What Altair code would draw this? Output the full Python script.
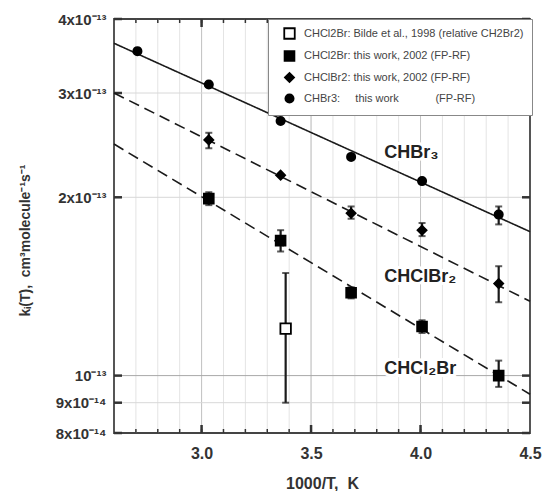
import altair as alt
import pandas as pd

NB = "\u00a0"

# ---------------- data ----------------
legend_labels = [
    "CHCl2Br: Bilde et al., 1998 (relative CH2Br2)",
    "CHCl2Br: this work, 2002 (FP-RF)",
    "CHClBr2: this work, 2002 (FP-RF)",
    "CHBr3:" + NB * 5 + "this work" + NB * 12 + "(FP-RF)",
]
legend_shapes = ["square", "square", "diamond", "circle"]
legend_fills = ["white", "black", "black", "black"]
legend_strokes = ["black", "black", "black", "black"]
legend_sizes = [110, 68, 130, 100]

bilde_x = [3.384]
bilde_k = [1.20e-13]
bilde_lo = [0.90e-13]
bilde_hi = [1.49e-13]

cl2br_x = [3.033, 3.361, 3.683, 4.007, 4.357]
cl2br_k = [1.99e-13, 1.69e-13, 1.38e-13, 1.21e-13, 1.00e-13]
cl2br_lo = [1.94e-13, 1.62e-13, 1.35e-13, 1.18e-13, 0.957e-13]
cl2br_hi = [2.04e-13, 1.76e-13, 1.41e-13, 1.24e-13, 1.06e-13]

clbr2_x = [3.033, 3.361, 3.683, 4.007, 4.357]
clbr2_k = [2.50e-13, 2.18e-13, 1.88e-13, 1.76e-13, 1.43e-13]
clbr2_lo = [2.42e-13, 2.18e-13, 1.84e-13, 1.72e-13, 1.33e-13]
clbr2_hi = [2.57e-13, 2.18e-13, 1.93e-13, 1.81e-13, 1.53e-13]

br3_x = [2.707, 3.033, 3.361, 3.683, 4.007, 4.357]
br3_k = [3.53e-13, 3.10e-13, 2.69e-13, 2.34e-13, 2.13e-13, 1.87e-13]
br3_lo = [3.53e-13, 3.10e-13, 2.69e-13, 2.34e-13, 2.13e-13, 1.80e-13]
br3_hi = [3.53e-13, 3.10e-13, 2.69e-13, 2.34e-13, 2.13e-13, 1.93e-13]

fit_x = [2.6, 4.5]
fit_br3 = [3.64e-13, 1.75e-13]
fit_clbr2 = [3.00e-13, 1.335e-13]
fit_cl2br = [2.46e-13, 0.93e-13]
fit_names = ["CHBr3", "CHClBr2", "CHCl2Br"]
fit_dash = ["solid", "dashed", "dashed"]

ann_labels = ["CHBr\u2083", "CHClBr\u2082", "CHCl\u2082Br"]
ann_x = [3.834, 3.834, 3.834]
ann_k = [2.33e-13, 1.44e-13, 1.006e-13]

y_ticks = [8e-14, 9e-14, 1e-13, 2e-13, 3e-13, 4e-13]
y_tick_labels = ["8x10\u207b\u00b9\u2074", "9x10\u207b\u00b9\u2074", "10\u207b\u00b9\u00b3",
                 "2x10\u207b\u00b9\u00b3", "3x10\u207b\u00b9\u00b3", "4x10\u207b\u00b9\u00b3"]
y_grid_light = [9e-14, 2e-13, 3e-13]
y_grid_dark = [1e-13]
x_major = [3.0, 3.5, 4.0, 4.5]
x_minor = [2.7, 2.8, 2.9, 3.0, 3.1, 3.2, 3.3, 3.4, 3.5, 3.6, 3.7, 3.8, 3.9,
           4.0, 4.1, 4.2, 4.3, 4.4]

# ---------------- tables ----------------
pts_rows = []
for name, xs_, ks, los, his in [
    (legend_labels[0], bilde_x, bilde_k, bilde_lo, bilde_hi),
    (legend_labels[1], cl2br_x, cl2br_k, cl2br_lo, cl2br_hi),
    (legend_labels[2], clbr2_x, clbr2_k, clbr2_lo, clbr2_hi),
    (legend_labels[3], br3_x, br3_k, br3_lo, br3_hi),
]:
    for x, k, lo, hi in zip(xs_, ks, los, his):
        pts_rows.append({"series": name, "x": x, "k": k, "lo": lo, "hi": hi})
pts = pd.DataFrame(pts_rows)
errs = pts[pts["hi"] > pts["lo"]].reset_index(drop=True)

fit_rows = []
for name, dash, ks in zip(fit_names, fit_dash, [fit_br3, fit_clbr2, fit_cl2br]):
    for x, k in zip(fit_x, ks):
        fit_rows.append({"name": name, "dash": dash, "x": x, "k": k})
fits = pd.DataFrame(fit_rows)

ann = pd.DataFrame({"label": ann_labels, "x": ann_x, "k": ann_k})

W, H = 416, 414
FONT = "Liberation Sans"

xs = alt.Scale(domain=[2.6, 4.5], nice=False, zero=False)
ys = alt.Scale(type="log", domain=[8e-14, 4e-13], nice=False)

conds = []
for i in range(len(y_ticks) - 1):
    mid = (y_ticks[i] * y_ticks[i + 1]) ** 0.5
    conds.append(f"datum.value < {mid:.6e} ? '{y_tick_labels[i]}' : ")
y_label_expr = "".join(conds) + f"'{y_tick_labels[-1]}'"

XA = alt.Axis(
    values=x_major, format=".1f", grid=False, ticks=False, domain=False,
    labelFont=FONT, labelFontSize=16, labelFontWeight="bold", labelColor="#333",
    labelPadding=12, labelFlush=False,
    title="1000/T," + NB + NB + "K", titleFont=FONT, titleFontSize=16,
    titleFontWeight="bold", titleColor="#333", titleBaseline="top", titleY=42,
)
YA = alt.Axis(
    values=y_ticks, labelExpr=y_label_expr, grid=False, ticks=False, domain=False,
    labelFont=FONT, labelFontSize=15, labelFontWeight="bold", labelColor="#333",
    labelPadding=8,
    title="k\u1d62(T)," + NB + NB + "cm\u00b3molecule\u207b\u00b9s\u207b\u00b9",
    titleFont=FONT, titleFontSize=14, titleFontWeight="bold", titleColor="#333",
    titleAngle=270, titleAlign="center", titleBaseline="middle", titleX=-89, titleY=221,
)


def X(f="x:Q"):
    return alt.X(f, scale=xs, axis=XA)


def Y(f="k:Q"):
    return alt.Y(f, scale=ys, axis=YA)


# grid lines
vminor = alt.Chart(pd.DataFrame({"x": x_minor})).mark_rule(
    color="#e4e4e4", strokeWidth=1).encode(x=X())
vmajor = alt.Chart(pd.DataFrame({"x": x_major[:-1]})).mark_rule(
    color="#c4c4c4", strokeWidth=1).encode(x=X())
hlight = alt.Chart(pd.DataFrame({"k": y_grid_light})).mark_rule(
    color="#d8d8d8", strokeWidth=1).encode(y=Y())
hdark = alt.Chart(pd.DataFrame({"k": y_grid_dark})).mark_rule(
    color="#a8a8a8", strokeWidth=1).encode(y=Y())

# inward tick marks
yt = pd.DataFrame({"k": y_ticks})
ytl = alt.Chart(yt).mark_rule(color="#333", strokeWidth=2.5).encode(
    y=Y(), x=alt.value(0), x2=alt.value(8))
ytr = alt.Chart(yt).mark_rule(color="#333", strokeWidth=2.5).encode(
    y=Y(), x=alt.value(W - 8), x2=alt.value(W))
xmaj = pd.DataFrame({"x": x_major[:-1]})
xmin = pd.DataFrame({"x": x_minor})
xtb_maj = alt.Chart(xmaj).mark_rule(color="#333", strokeWidth=2.5).encode(
    x=X(), y=alt.value(H - 8), y2=alt.value(H))
xtb_min = alt.Chart(xmin).mark_rule(color="#333", strokeWidth=1.5).encode(
    x=X(), y=alt.value(H - 4), y2=alt.value(H))
xtt_maj = alt.Chart(xmaj).mark_rule(color="#333", strokeWidth=2.5).encode(
    x=X(), y=alt.value(0), y2=alt.value(8))
xtt_min = alt.Chart(xmin).mark_rule(color="#333", strokeWidth=1.5).encode(
    x=X(), y=alt.value(0), y2=alt.value(4))

# fit lines
lines = alt.Chart(fits).mark_line(color="#1a1a1a", strokeWidth=1.6).encode(
    x=X(), y=Y(),
    detail="name:N",
    strokeDash=alt.StrokeDash("dash:N", scale=alt.Scale(
        domain=["solid", "dashed"], range=[[1, 0], [11, 6]]), legend=None),
)

# error bars
ebar = alt.Chart(errs).mark_rule(color="#1a1a1a", strokeWidth=2.2).encode(
    x=X(), y=Y("lo:Q"), y2="hi:Q")
cap_lo = alt.Chart(errs).mark_tick(color="#1a1a1a", thickness=2, size=7,
                                   orient="horizontal").encode(x=X(), y=Y("lo:Q"))
cap_hi = alt.Chart(errs).mark_tick(color="#1a1a1a", thickness=2, size=7,
                                   orient="horizontal").encode(x=X(), y=Y("hi:Q"))

# points with legend
leg = alt.Legend(
    title=None, orient="none", legendX=154, legendY=0,
    strokeColor="#888", fillColor="white", padding=8, symbolOffset=7,
    labelFont=FONT, labelFontSize=11, labelColor="#444", labelOffset=8,
    rowPadding=4, labelLimit=400, symbolStrokeWidth=1.8, symbolOpacity=1,
)
points = alt.Chart(pts).mark_point(filled=True, strokeWidth=1.8, opacity=1).encode(
    x=X(), y=Y(),
    shape=alt.Shape("series:N", scale=alt.Scale(domain=legend_labels, range=legend_shapes),
                    legend=leg, sort=legend_labels),
    fill=alt.Fill("series:N", scale=alt.Scale(domain=legend_labels, range=legend_fills),
                  legend=leg, sort=legend_labels),
    stroke=alt.Stroke("series:N", scale=alt.Scale(domain=legend_labels, range=legend_strokes),
                      legend=leg, sort=legend_labels),
    size=alt.Size("series:N", scale=alt.Scale(domain=legend_labels, range=legend_sizes),
                  legend=leg, sort=legend_labels),
)

# annotations with halo
halo = alt.Chart(ann).mark_text(
    font=FONT, fontSize=18, fontWeight="bold", align="left", baseline="alphabetic",
    color="white", stroke="white", strokeWidth=6).encode(
    x=X(), y=Y(), text="label:N")
texts = alt.Chart(ann).mark_text(
    font=FONT, fontSize=18, fontWeight="bold", align="left", baseline="alphabetic",
    color="#222").encode(
    x=X(), y=Y(), text="label:N")

chart = alt.layer(
    vminor, vmajor, hlight, hdark, ytl, ytr, xtb_maj, xtb_min, xtt_maj, xtt_min,
    lines, halo, texts, ebar, cap_lo, cap_hi, points,
).properties(
    width=W, height=H,
    padding={"left": 114, "top": 19, "right": 13, "bottom": 58},
    autosize=alt.AutoSizeParams(type="none"),
    background="white",
).configure_view(stroke="#444", strokeWidth=1.8)

chart.save("out.html", embed_options={"renderer": "svg", "actions": False})
